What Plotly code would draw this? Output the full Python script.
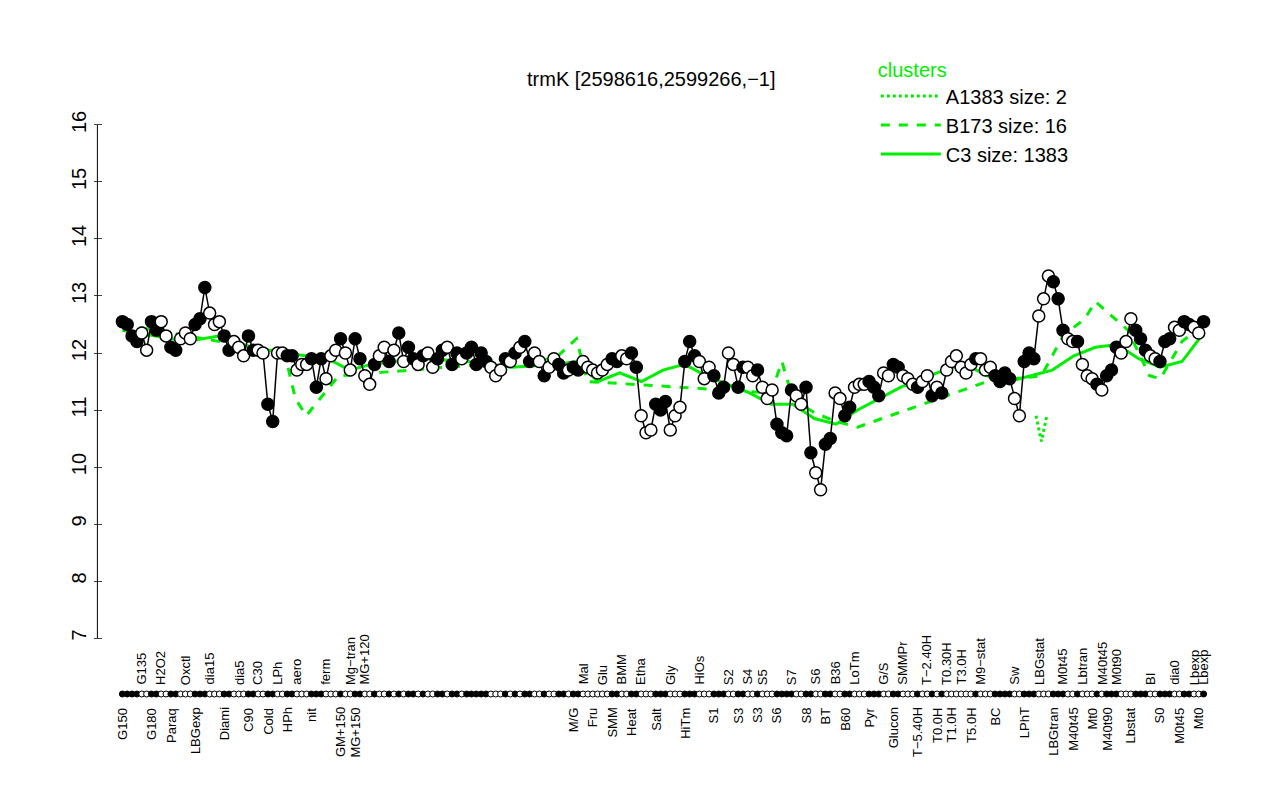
import plotly.graph_objects as go

# (label, value, filled)
points = [
("G150",12.55,1),("",12.5,1),("",12.3,1),("",12.2,1),("G135",12.35,0),("",12.05,0),("G180",12.55,1),("",12.4,1),
("H2O2",12.55,0),("",12.3,0),("Paraq",12.1,1),("",12.05,1),("",12.25,0),("Oxctl",12.35,0),("",12.25,0),
("LBGexp",12.5,1),("",12.6,1),("",13.15,1),("dia15",12.7,0),("",12.5,0),("",12.55,0),("Diami",12.3,1),("",12.05,1),
("",12.2,0),("dia5",12.1,0),("",11.95,0),("C90",12.3,1),("",12.05,1),("C30",12.05,0),("",12.0,0),
("Cold",11.1,1),("",10.8,1),("LPh",12.0,0),("",12.0,0),("HPh",11.95,1),("",11.95,1),("aero",11.7,0),("",11.8,0),("",11.8,0),
("nit",11.9,1),("",11.4,1),("",11.9,1),("ferm",11.55,0),("",11.95,0),("",12.05,0),("GM+150",12.25,1),("",12.0,0),
("Mg\u2212tran",11.7,0),("MG+150",12.25,1),("",11.9,1),("MG+120",11.6,0),("",11.45,0),
("",11.8,1),("",11.95,0),("",12.1,0),("",11.85,1),("",12.05,0),("",12.35,1),("",11.85,0),("",12.1,1),("",11.9,1),("",11.8,0),
("",11.95,1),("",12.0,0),("",11.75,0),("",11.9,1),("",12.05,1),("",12.1,0),("",11.8,1),("",12.0,1),("",11.9,0),
("",12.0,1),("",12.1,1),("",11.8,1),("",12.0,1),("",11.85,1),("",11.75,0),("",11.6,0),("",11.7,0),
("",11.9,1),("",11.85,0),("",12.0,1),("",12.1,0),("",12.2,1),("",11.85,1),("",12.0,0),("",11.85,0),
("",11.6,1),("",11.75,0),("",11.9,0),("",11.8,1),("",11.65,1),("",11.7,0),
("M/G",11.75,1),("",11.7,1),("Mal",11.85,0),("",11.75,0),("Fru",11.7,0),("",11.65,0),("Glu",11.7,0),("",11.8,0),
("SMM",11.9,1),("",11.85,1),("BMM",11.95,0),("",11.9,0),("Heat",12.0,1),("",11.75,1),
("Etha",10.9,0),("",10.6,0),("",10.65,0),("Salt",11.1,1),("",11.0,1),("",11.15,1),("Gly",10.65,0),("",10.9,0),("",11.05,0),
("HiTm",11.85,1),("",12.2,1),("",11.95,1),("HiOs",11.85,0),("",11.55,0),("",11.75,0),("S1",11.6,1),("",11.3,1),("",11.4,1),
("S2",12.0,0),("",11.8,0),("S3",11.4,1),("",11.75,1),("S4",11.75,0),("",11.6,0),("S3",11.7,1),("S5",11.4,0),("",11.2,0),("",11.35,0),
("S6",10.75,1),("",10.6,1),("",10.55,1),("S7",11.35,1),("",11.25,0),("",11.1,0),("S8",11.4,1),("",10.25,1),
("S6",9.9,0),("",9.6,0),("BT",10.4,1),("",10.5,1),("B36",11.3,0),("",11.2,0),("B60",10.9,1),("",11.05,1),
("LoTm",11.4,0),("",11.45,0),("",11.45,0),("Pyr",11.5,1),("",11.4,1),("",11.25,1),("G/S",11.65,0),("",11.6,0),
("Glucon",11.8,1),("",11.75,1),("SMMPr",11.6,0),("",11.55,0),("",11.45,0),("T\u22125.40H",11.4,1),("",11.5,0),("T\u22122.40H",11.6,0),
("",11.25,1),("T0.0H",11.4,0),("",11.3,1),("T0.30H",11.7,0),("T1.0H",11.85,0),("",11.95,0),("T3.0H",11.75,0),("",11.65,0),
("T5.0H",11.8,0),("",11.9,1),("M9\u2212stat",11.9,0),("",11.7,0),("",11.75,0),("BC",11.6,1),("",11.5,1),("",11.65,1),("",11.55,1),
("Sw",11.2,0),("",10.9,0),("LPhT",11.85,1),("",12.0,1),("",11.9,1),("LBGstat",12.65,0),("",12.95,0),("",13.35,0),
("LBGtran",13.25,1),("",12.95,1),("M0t45",12.4,1),("",12.25,0),("M40t45",12.2,0),("",12.2,1),("Lbtran",11.8,0),("",11.6,0),
("Mt0",11.55,0),("",11.45,1),("M40t45",11.35,0),("M40t90",11.6,1),("",11.7,1),("M0t90",12.1,1),("",12.0,0),("",12.2,0),
("Lbstat",12.6,0),("",12.4,1),("",12.25,1),("",12.05,1),("BI",11.95,0),("",11.9,0),("S0",11.85,1),("",12.2,1),("",12.25,1),
("dia0",12.45,0),("M0t45",12.4,0),("",12.55,1),("",12.5,1),("Lbexp",12.45,0),("Mt0",12.35,0),("Lbexp",12.55,1),
]
labels = [p[0] for p in points]
values = [p[1] for p in points]
filled = [p[2] for p in points]
N = len(values)

# green cluster profiles (fraction along x, value)
c3_pos = [0,.03,.06,.09,.12,.15,.17,.19,.21,.23,.25,.28,.32,.36,.40,.42,.44,.46,.48,.50,.52,.54,.56,.58,.60,.62,.64,.66,.68,.70,.72,.74,.76,.78,.80,.82,.84,.86,.88,.90,.92,.94,.96,.98,1]
c3_val = [12.4,12.3,12.2,12.3,12.1,12.0,11.95,11.9,11.7,11.8,11.85,11.9,11.85,11.75,11.8,11.85,11.5,11.65,11.5,11.7,11.8,11.6,11.45,11.3,11.1,11.1,10.85,10.75,11.0,11.2,11.4,11.55,11.7,11.8,11.6,11.5,11.6,11.7,11.95,12.1,12.15,11.9,11.75,11.85,12.35]
b173_pos = [0,.15,.16,.17,.2,.4,.42,.43,.6,.61,.62,.64,.66,.68,.8,.85,.87,.89,.9,.93,.95,.96,.98,1]
b173_val = [12.5,12.0,11.2,10.9,11.6,11.9,12.25,11.5,11.3,11.85,11.2,10.95,10.8,10.7,11.5,11.6,12.3,12.6,12.9,12.4,11.6,11.55,12.2,12.5]
a_pos = [.845,.85,.855]
a_val = [10.9,10.45,10.9]

xs = list(range(N))
def fx(f): return f*(N-1)

fig = go.Figure()
fig.add_trace(go.Scatter(x=[fx(p) for p in c3_pos], y=c3_val, mode="lines", line=dict(color="#00ee00", width=3), name="C3 size: 1383", legendrank=3))
fig.add_trace(go.Scatter(x=[fx(p) for p in b173_pos], y=b173_val, mode="lines", line=dict(color="#00ee00", width=3, dash="dash"), name="B173 size: 16", legendrank=2))
fig.add_trace(go.Scatter(x=[fx(p) for p in a_pos], y=a_val, mode="lines", line=dict(color="#00ee00", width=3, dash="dot"), name="A1383 size: 2", legendrank=1))
fig.add_trace(go.Scatter(x=xs, y=values, mode="lines+markers", line=dict(color="black", width=1.5),
    marker=dict(size=12, color=["black" if f else "white" for f in filled], line=dict(color="black", width=1.5)), showlegend=False))
fig.add_trace(go.Scatter(x=xs, y=[0.5]*N, yaxis="y2", mode="markers",
    marker=dict(size=6, color=["black" if f else "white" for f in filled], line=dict(color="black", width=1)), showlegend=False))

ann = []
row = 0
for i, l in enumerate(labels):
    if not l: continue
    top = row % 2 == 1
    row += 1
    ann.append(dict(x=i, y=0.082 if top else 0.052, xref="x", yref="paper", text=l, showarrow=False,
                    textangle=-90, yanchor="bottom" if top else "top", font=dict(size=13, color="black")))
ann.append(dict(x=0.49, y=1.075, xref="paper", yref="paper", text="trmK [2598616,2599266,\u22121]", showarrow=False, font=dict(size=20, color="black")))
fig.update_layout(
    width=1280, height=800, plot_bgcolor="white", paper_bgcolor="white",
    margin=dict(l=95, r=65, t=105, b=70, autoexpand=False),
    font=dict(family="Liberation Sans, Arial", color="black"),
    xaxis=dict(range=[-4, N+3], showticklabels=False, ticks="", showgrid=False, zeroline=False, showline=False),
    yaxis=dict(domain=[0.1408, 1], range=[6.79, 16.21], tickvals=list(range(7,17)), tickangle=-90, tickfont=dict(size=20),
               showgrid=False, zeroline=False, showline=False, ticks="outside", ticklen=8),
    yaxis2=dict(domain=[0, 0.1408], range=[0, 1], visible=False),
    shapes=[dict(type="line", xref="paper", yref="y", x0=-0.005, x1=-0.005, y0=7, y1=16, line=dict(color="black", width=1))],
    annotations=ann,
    legend=dict(x=0.69, y=1.1, xanchor="left", yanchor="top", title=dict(text="clusters", font=dict(color="#00ee00", size=20)),
                font=dict(size=20), bgcolor="rgba(0,0,0,0)", traceorder="normal", itemwidth=60),
)
fig.write_html("out.html")
